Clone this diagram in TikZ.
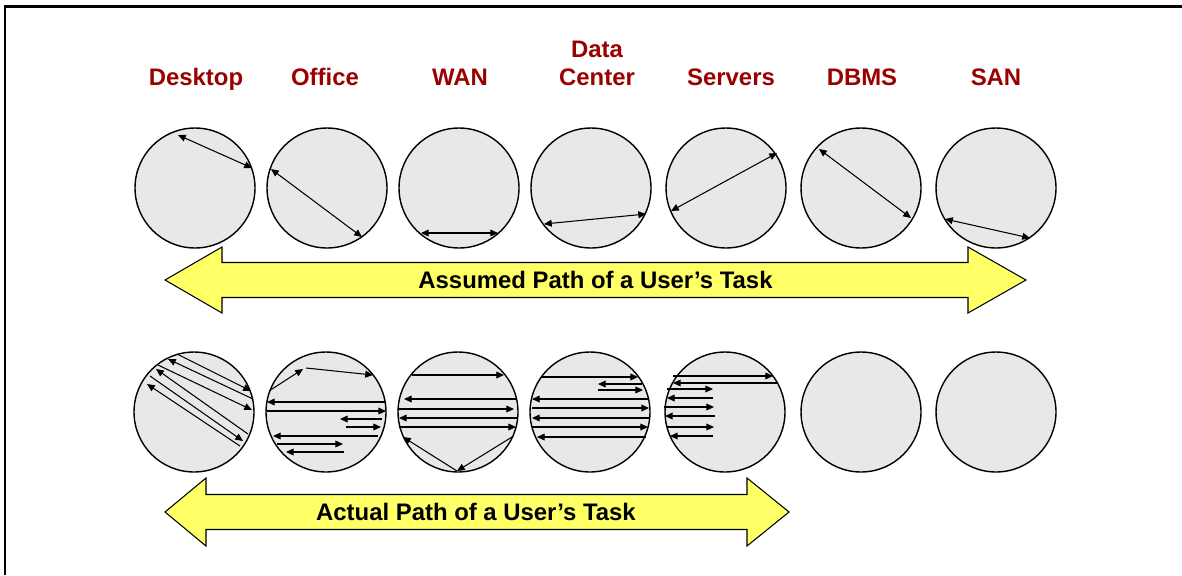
\documentclass[tikz,border=0pt]{standalone}
\usepackage{fontspec}
\setmainfont{Liberation Sans}
\usepackage{tikz}
\usetikzlibrary{arrows.meta}
\definecolor{labelred}{RGB}{153,0,0}
\definecolor{discgray}{RGB}{232,232,232}
\definecolor{pathyellow}{RGB}{255,255,102}

\begin{document}
\begin{tikzpicture}[x=0.02cm, y=-0.02cm,
  >={Triangle[length=4.4pt,width=3.9pt]},
  disc/.style={circle, draw=black, fill=discgray, line width=0.8pt, minimum size=2.4cm, inner sep=0pt},
  place/.style={text=labelred, font=\fontsize{13.6}{15.9}\selectfont\bfseries, align=center, anchor=base, inner sep=0pt},
  hop/.style={line width=0.6pt},
  band/.style={fill=pathyellow, draw=black, line width=0.6pt},
  bandtext/.style={font=\fontsize{13.6}{16}\selectfont\bfseries, inner sep=0pt}]

\useasboundingbox (0,0) rectangle (1182,575);

\draw [line width=1.2pt] (5,575) -- (5,6.5) -- (1182,6.5);

\node [place] (ldesk) at (196,85) {Desktop};
\node [place] (loffice) at (325,85) {Office};
\node [place] (lwan) at (460,85) {WAN};
\node [place] (ldc) at (597,85) {Data\\Center};
\node [place] (lsrv) at (731,85) {Servers};
\node [place] (ldbms) at (862,85) {DBMS};
\node [place] (lsan) at (996,85) {SAN};

% assumed path
\node [disc] (desk1) at (195,188) {};
\node [disc] (office1) at (327,188) {};
\node [disc] (wan1) at (459,188) {};
\node [disc] (dc1) at (591,188) {};
\node [disc] (srv1) at (726,188) {};
\node [disc] (dbms1) at (861,188) {};
\node [disc] (san1) at (996,188) {};

\draw [hop, <->] (178,135) -- (252,168);
\draw [hop, <->] (271,169) -- (362,237);
\draw [hop, <->] (421,233) -- (498,233);
\draw [hop, <->] (544,224) -- (646,214);
\draw [hop, <->] (671,211) -- (777,153);
\draw [hop, <->] (819,149) -- (911,218);
\draw [hop, <->] (945,219) -- (1030,238);

\filldraw [band] (165,280) -- (222,247) -- (222,262.5) -- (968,262.5) -- (968,247) -- (1026,280)
  -- (968,313) -- (968,297.5) -- (222,297.5) -- (222,313) -- cycle;
\node [bandtext] (assumed) at (595.5,280) {Assumed Path of a User’s Task};

% actual path
\node [disc] (desk2) at (194,412) {};
\node [disc] (office2) at (326,412) {};
\node [disc] (wan2) at (458,412) {};
\node [disc] (dc2) at (590,412) {};
\node [disc] (srv2) at (725,412) {};
\node [disc] (dbms2) at (861,412) {};
\node [disc] (san2) at (996,412) {};

\draw [hop, ->] (177,354) -- (251,391);
\draw [hop, <-] (168,359) -- (253,399);
\draw [hop, ->] (158,365) -- (252,410);
\draw [hop, <-] (156,369) -- (248,434);
\draw [hop, ->] (150,376) -- (243,441);
\draw [hop, <-] (147,384) -- (240,446);

\draw [hop, ->] (269,391) -- (303,369);
\draw [hop, ->] (306,368) -- (373,375);
\draw [hop, <-] (267,402) -- (385,402);
\draw [hop, ->] (267,411) -- (386,411);
\draw [hop, <-] (340,419) -- (382,419);
\draw [hop, ->] (346,427) -- (381,427);
\draw [hop, <-] (273,436) -- (378,436);
\draw [hop, ->] (277,444) -- (343,444);
\draw [hop, <-] (286,452) -- (344,452);

\draw [hop, ->] (412,375) -- (504,375);
\draw [hop, <-] (404,399) -- (517,399);
\draw [hop, ->] (399,409) -- (514,409);
\draw [hop, <-] (399,418) -- (518,418);
\draw [hop, ->] (399,427) -- (516,427);
\draw [hop, ->] (512,437) -- (457,471);
\draw [hop, <-] (403,437) -- (457,471);

\draw [hop, ->] (541,377) -- (638,377);
\draw [hop, <-] (598,384) -- (642,384);
\draw [hop, ->] (598,390) -- (643,390);
\draw [hop, <-] (532,399) -- (648,399);
\draw [hop, ->] (532,408) -- (649,408);
\draw [hop, <-] (532,418) -- (649,418);
\draw [hop, ->] (532,427) -- (648,427);
\draw [hop, <-] (537,437) -- (646,437);

\draw [hop, ->] (673,376) -- (773,376);
\draw [hop, <-] (673,383) -- (777,383);
\draw [hop, ->] (667,389) -- (713,389);
\draw [hop, <-] (667,398) -- (713,398);
\draw [hop, ->] (664,407) -- (714,407);
\draw [hop, <-] (665,416) -- (715,416);
\draw [hop, ->] (667,427) -- (714,427);
\draw [hop, <-] (670,436) -- (713,436);

\filldraw [band] (165,512) -- (206,478) -- (206,494.5) -- (747,494.5) -- (747,478) -- (789,512)
  -- (747,546) -- (747,529.5) -- (206,529.5) -- (206,546) -- cycle;
\node [bandtext] (actual) at (476,512) {Actual Path of a User’s Task};

\end{tikzpicture}
\end{document}
